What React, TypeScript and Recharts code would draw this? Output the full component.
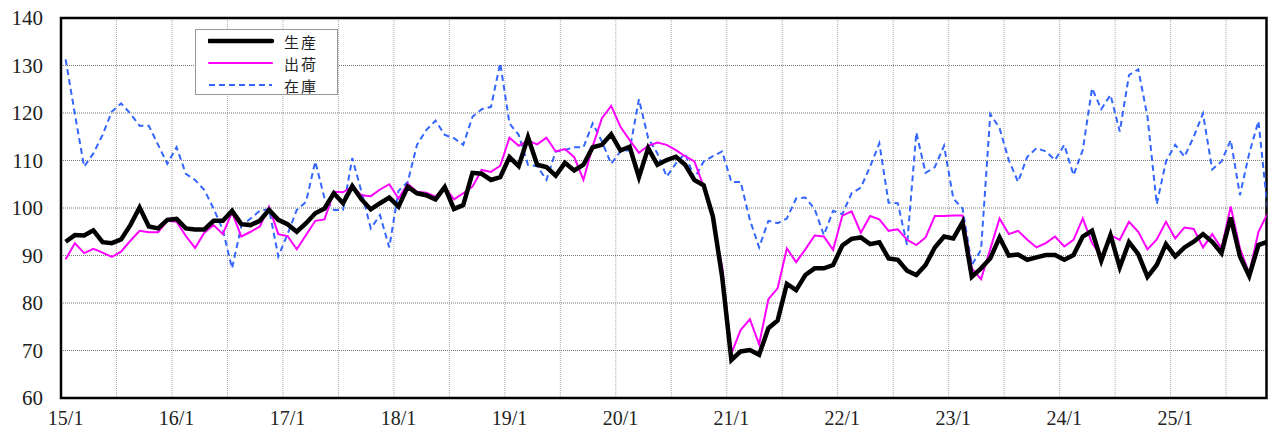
import { LineChart, Line, XAxis, YAxis, CartesianGrid, ReferenceArea, Legend } from "recharts"

// 月次指数 15/1 〜 25/11（1行 = 1年）
const production = [
  92.9, 94.3, 94.2, 95.3, 92.8, 92.6, 93.4, 96.4, 100.1, 96.1, 95.7, 97.5,
  97.7, 95.7, 95.5, 95.5, 97.3, 97.3, 99.4, 96.6, 96.4, 97.3, 99.6, 97.5,
  96.6, 95.0, 96.8, 98.9, 99.9, 103.1, 101.0, 104.6, 101.8, 99.7, 101.0, 102.2,
  100.3, 104.5, 103.1, 102.7, 101.8, 104.4, 99.8, 100.6, 107.4, 107.2, 105.9, 106.5,
  110.7, 108.8, 114.9, 109.1, 108.6, 106.8, 109.5, 107.9, 109.1, 112.8, 113.3, 115.5,
  112.1, 112.9, 106.5, 112.6, 109.1, 110.1, 110.8, 109.1, 105.9, 104.8, 98.2, 85.5,
  68.0, 69.8, 70.1, 69.1, 74.7, 76.3, 84.0, 82.7, 85.9, 87.3, 87.3, 88.0,
  92.1, 93.5, 93.8, 92.4, 92.8, 89.4, 89.1, 86.8, 85.9, 88.0, 91.7, 94.0,
  93.6, 97.0, 85.5, 87.3, 89.4, 93.8, 90.0, 90.2, 89.1, 89.6, 90.1, 90.1,
  89.1, 90.1, 94.0, 95.2, 88.9, 94.3, 87.5, 92.8, 90.3, 85.5, 88.0, 92.4,
  89.8, 91.7, 92.9, 94.5, 92.9, 90.5, 98.0, 89.8, 85.7, 92.2, 92.9,
]

const shipment = [
  89.2, 92.6, 90.5, 91.4, 90.6, 89.7, 90.8, 93.1, 95.2, 94.9, 94.9, 97.3,
  97.1, 94.1, 91.6, 94.8, 96.4, 94.5, 99.1, 94.0, 95.0, 96.1, 100.3, 94.5,
  94.1, 91.3, 94.3, 97.3, 97.6, 103.4, 103.3, 104.5, 102.7, 102.5, 103.9, 105.0,
  102.0, 105.1, 103.4, 103.2, 102.4, 104.4, 101.8, 103.1, 104.5, 108.0, 107.6, 108.9,
  114.8, 113.1, 114.2, 113.4, 114.8, 111.9, 112.4, 110.7, 105.9, 113.0, 118.9, 121.5,
  117.1, 114.3, 111.6, 113.1, 113.8, 113.3, 112.2, 110.9, 109.8, 104.5, 97.8, 87.6,
  69.4, 74.3, 76.6, 71.3, 80.8, 83.1, 91.5, 88.6, 91.3, 94.2, 94.0, 91.2,
  98.4, 99.3, 94.8, 98.3, 97.6, 95.2, 95.5, 93.3, 92.2, 93.8, 98.3, 98.3,
  98.4, 98.4, 87.3, 85.0, 91.4, 97.8, 94.5, 95.2, 93.3, 91.7, 92.6, 94.0,
  91.9, 93.3, 97.8, 92.6, 89.8, 94.3, 93.3, 97.1, 95.0, 91.3, 93.4, 97.1,
  93.6, 95.9, 95.6, 91.7, 94.5, 91.5, 100.3, 91.5, 86.2, 95.0, 98.9,
]

const inventory = [
  131.3, 119.8, 108.7, 111.5, 115.4, 120.3, 122.0, 119.9, 117.3, 117.3, 113.3, 109.3,
  112.8, 107.2, 105.9, 103.8, 99.9, 95.4, 87.3, 96.2, 97.8, 99.4, 99.8, 89.8,
  94.5, 99.6, 101.3, 109.8, 102.0, 99.6, 99.6, 110.5, 103.4, 95.7, 98.5, 91.7,
  103.6, 105.5, 113.3, 116.4, 118.4, 115.4, 114.7, 113.3, 119.2, 120.8, 121.3, 130.5,
  117.8, 115.4, 109.1, 108.8, 105.9, 111.9, 112.2, 112.8, 112.8, 117.8, 114.0, 109.3,
  111.9, 112.2, 122.9, 114.7, 111.5, 106.6, 109.4, 111.5, 106.2, 109.8, 110.9, 111.9,
  105.5, 105.5, 97.5, 91.7, 97.3, 96.8, 97.8, 102.0, 102.2, 99.8, 94.3, 99.4,
  98.7, 103.1, 104.3, 108.7, 113.6, 101.1, 101.0, 92.2, 115.9, 107.4, 108.6, 113.1,
  102.0, 99.9, 88.0, 91.2, 119.8, 116.8, 110.1, 105.5, 110.8, 112.6, 111.9, 110.1,
  113.3, 106.9, 112.2, 125.2, 120.8, 123.8, 116.1, 128.0, 129.2, 119.2, 100.8, 109.8,
  113.3, 110.8, 115.0, 119.9, 108.1, 109.8, 114.3, 102.7, 111.5, 118.3, 99.6,
]

const yTicks = [60, 70, 80, 90, 100, 110, 120, 130, 140]
const yearTicks = [0, 12, 24, 36, 48, 60, 72, 84, 96, 108, 120] // 各年1月
const halfYearLines = [5.5, 11.5, 17.5, 23.5, 29.5, 35.5, 41.5, 47.5, 53.5, 59.5, 65.5,
  71.5, 77.5, 83.5, 89.5, 95.5, 101.5, 107.5, 113.5, 119.5, 125.5]

const data = production.map((v, i) => ({
  i,
  生産: v,
  出荷: shipment[i],
  在庫: inventory[i],
}))

const monthLabel = (i: number) => `${15 + Math.floor(i / 12)}/${(i % 12) + 1}`

const SERIES = [
  { key: "生産", color: "#000000", width: 4.5, dash: undefined },
  { key: "出荷", color: "#ff00ff", width: 2, dash: undefined },
  { key: "在庫", color: "#3366ff", width: 2, dash: "6 4" },
]

const FONT = "'Liberation Serif', 'DejaVu Serif', serif"
const JP_FONT = "'Noto Sans CJK JP', sans-serif"

function LegendBox() {
  return (
    <div style={{
      width: 143, height: 66, border: "1px solid #999", background: "#fff",
      boxSizing: "border-box",
    }}>
      {SERIES.map(s => (
        <div key={s.key} style={{ display: "flex", alignItems: "center", height: 22 }}>
          <svg width={76} height={10} style={{ marginLeft: 12 }}>
            <line x1={1} y1={5} x2={64} y2={5} stroke={s.color}
              strokeWidth={s.width} strokeDasharray={s.dash} strokeLinecap={s.dash ? "butt" : "round"} />
          </svg>
          <span style={{
            fontFamily: JP_FONT, fontSize: 15, color: "#222", letterSpacing: 2,
          }}>{s.key}</span>
        </div>
      ))}
    </div>
  )
}

export default function App() {
  return (
    <div style={{ position: "absolute", left: 0, top: 0, background: "#fff" }}>
      <LineChart width={1268} height={432} data={data}
        margin={{ top: 18, right: 1.5, left: 0, bottom: 0 }}>
        <CartesianGrid horizontal={false} verticalValues={halfYearLines}
          stroke="#aaa" strokeDasharray="1 1" />
        <CartesianGrid vertical={false} horizontalValues={[70, 80, 90, 100, 110, 120, 130]}
          stroke="#777" strokeDasharray="1 1" />
        <XAxis dataKey="i" type="number" domain={[-0.5, 129.87]} allowDataOverflow
          ticks={yearTicks} tickFormatter={monthLabel} interval={0}
          height={34} tickSize={0} tickMargin={13} axisLine={false} tickLine={false}
          tick={{ fontFamily: FONT, fontSize: 20, fill: "#222" }} />
        <YAxis type="number" domain={[60, 140]} ticks={yTicks} width={61}
          tickSize={0} tickMargin={18} axisLine={false} tickLine={false}
          tick={{ fontFamily: FONT, fontSize: 21, fill: "#222" }} />
        {SERIES.slice().reverse().map(s => (
          <Line key={s.key} type="linear" dataKey={s.key} stroke={s.color}
            strokeWidth={s.width} strokeDasharray={s.dash} dot={false}
            activeDot={false} isAnimationActive={false} />
        ))}
        <ReferenceArea x1={-0.5} x2={129.87} y1={60} y2={140}
          fill="none" stroke="#000" strokeWidth={2.5} ifOverflow="visible" />
        <Legend layout="vertical" align="center" verticalAlign="middle"
          wrapperStyle={{ left: 195, top: 29, width: 143 }}
          content={() => <LegendBox />} />
      </LineChart>
    </div>
  )
}
